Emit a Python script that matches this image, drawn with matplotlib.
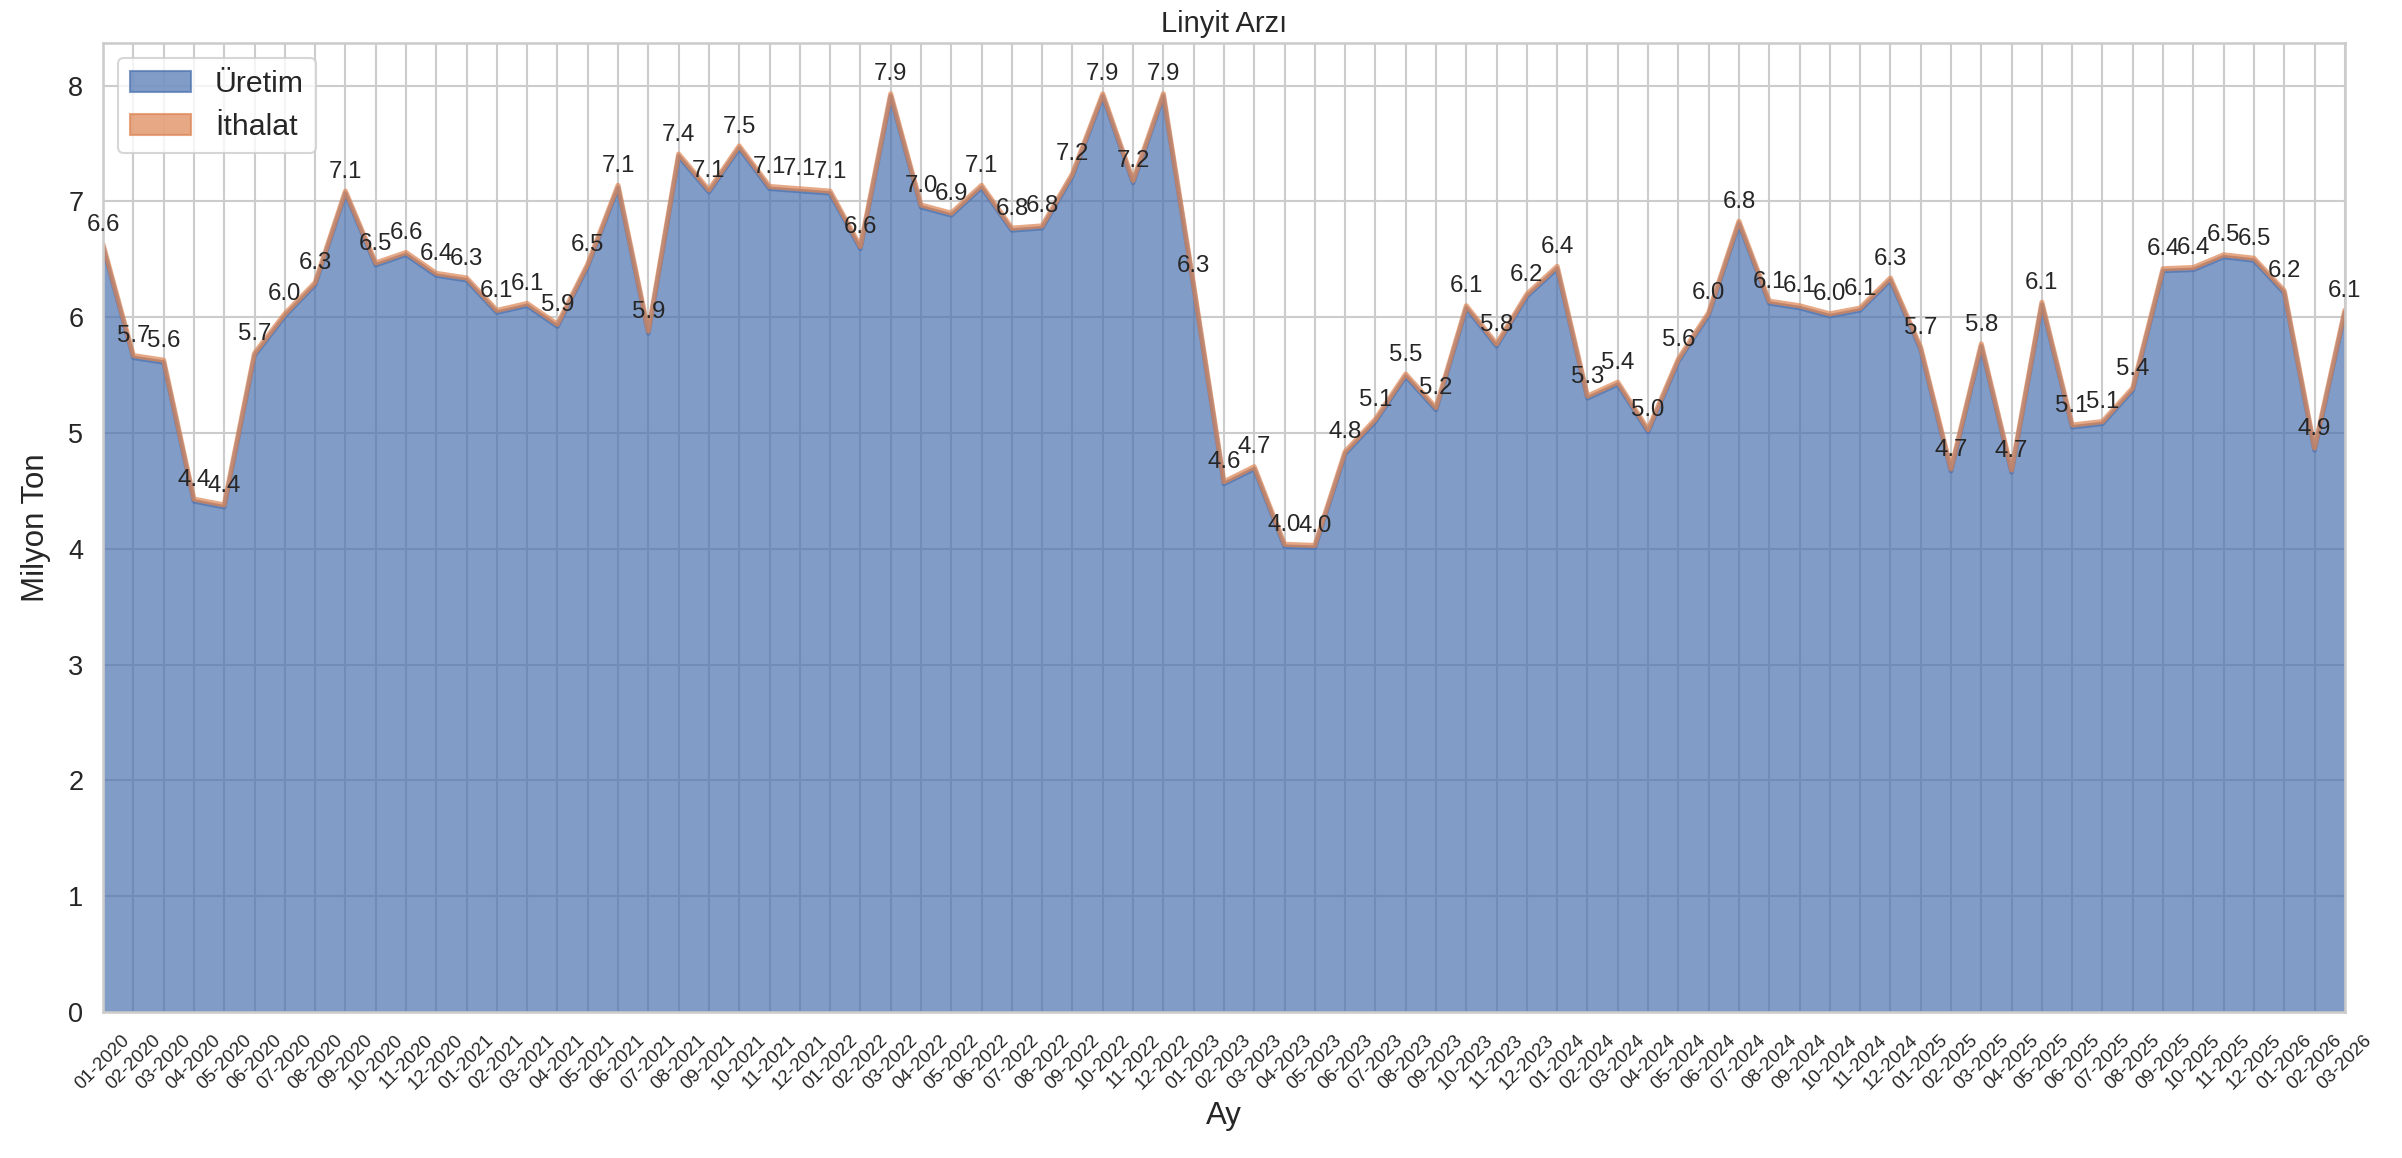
import matplotlib
matplotlib.use("Agg")
import matplotlib.pyplot as plt
import seaborn as sns
import numpy as np
from matplotlib.patches import Patch

sns.set_theme(style="whitegrid")
plt.rcParams['font.family'] = ['Liberation Sans', 'DejaVu Sans']

months = [f"{m:02d}-{y}" for y in range(2020, 2026) for m in range(1, 13)] + ["01-2026", "02-2026", "03-2026"]

uretim = [
    6.61, 5.65, 5.61, 4.41, 4.36, 5.67, 6.01, 6.28, 7.07, 6.45, 6.54, 6.36,
    6.32, 6.04, 6.10, 5.92, 6.44, 7.12, 5.86, 7.39, 7.08, 7.46, 7.11, 7.09,
    7.07, 6.59, 7.91, 6.95, 6.88, 7.12, 6.75, 6.77, 7.22, 7.91, 7.16, 7.91,
    6.26, 4.56, 4.69, 4.02, 4.01, 4.82, 5.10, 5.49, 5.20, 6.08, 5.75, 6.18,
    6.42, 5.30, 5.42, 5.01, 5.62, 6.02, 6.81, 6.12, 6.08, 6.01, 6.06, 6.32,
    5.72, 4.67, 5.75, 4.66, 6.11, 5.05, 5.08, 5.37, 6.40, 6.41, 6.52, 6.49,
    6.21, 4.85, 6.04,
]
ithalat = [0.02] * len(uretim)

blue = "#4C72B0"
orange = "#DD8452"

fig = plt.figure(figsize=(2402 / 150, 1158 / 150), dpi=150)
ax = fig.add_axes([0.0429, 0.126, 0.9333, 0.837])

x = np.arange(len(months))
u = np.array(uretim)
t = u + np.array(ithalat)

ax.fill_between(x, 0, u, color=blue, alpha=0.7, linewidth=0, label="Üretim")
ax.plot(x, u, color=blue, alpha=0.7, linewidth=2.2)
ax.fill_between(x, u, t, color=orange, alpha=0.7, linewidth=0, label="İthalat")
ax.plot(x, t, color=orange, alpha=0.7, linewidth=2.4)

for xi, ti in zip(x, t):
    ax.annotate(f"{ti:.1f}", (xi, ti), xytext=(0, 4), textcoords="offset points",
                ha="center", va="bottom", fontsize=11.5, color="#262626",
                annotation_clip=False)

ax.set_xlim(0, len(months) - 1)
ax.set_ylim(0, 8.37)
ax.set_xticks(x)
ax.set_xticklabels(months, rotation=45, fontsize=9)
ax.tick_params(axis="y", labelsize=13)
ax.set_xlabel("Ay", fontsize=15)
ax.set_ylabel("Milyon Ton", fontsize=15, labelpad=8)
ax.set_title("Linyit Arzı", fontsize=14, pad=5)

handles = [Patch(facecolor=blue, alpha=0.7, edgecolor=blue), Patch(facecolor=orange, alpha=0.7, edgecolor=orange)]
ax.legend(handles, ["Üretim", "İthalat"], loc="upper left", fontsize=14.5, frameon=True)

fig.savefig("out.png", dpi=150)
